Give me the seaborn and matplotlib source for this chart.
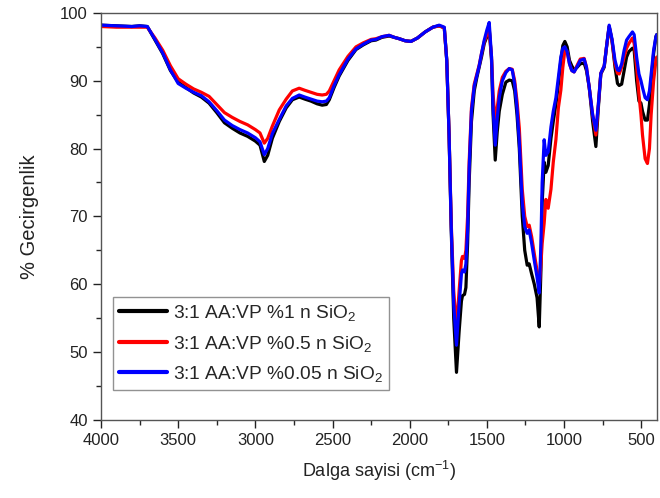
import numpy as np
import pandas as pd
import matplotlib
matplotlib.use("Agg")
import matplotlib.pyplot as plt
import seaborn as sns
from matplotlib.ticker import MultipleLocator

wavenumber = [4000, 3900, 3800, 3750, 3700, 3650, 3600, 3550, 3500, 3450, 3400, 3350, 3300, 3250,
              3200, 3150, 3100, 3050, 3000, 2970, 2942, 2920, 2890, 2845, 2800, 2760, 2716, 2680,
              2640, 2600, 2567, 2540, 2521, 2490, 2457, 2400, 2348, 2300, 2250, 2219, 2180, 2133,
              2100, 2068, 2030, 1992, 1950, 1900, 1850, 1809, 1776, 1760, 1745, 1731, 1715, 1697,
              1680, 1665, 1658, 1645, 1636, 1625, 1615, 1600, 1582, 1565, 1550, 1535, 1517, 1500,
              1485, 1470, 1460, 1446, 1433, 1420, 1400, 1377, 1355, 1336, 1320, 1305, 1290, 1271,
              1255, 1239, 1226, 1210, 1193, 1175, 1161, 1150, 1142, 1129, 1118, 1103, 1085, 1070,
              1053, 1037, 1021, 1008, 995, 980, 965, 950, 935, 915, 895, 870, 855, 837, 815, 794,
              778, 762, 740, 725, 708, 690, 670, 654, 643, 627, 611, 595, 580, 557, 546, 530, 515,
              502, 492, 475, 460, 447, 436, 420, 405, 400]

t_1pct = [98.2, 98.1, 98.0, 98.1, 98.0, 96.0, 94.0, 91.5, 89.8, 89.0, 88.2, 87.6, 86.7, 85.3,
          83.8, 83.0, 82.3, 81.8, 81.1, 80.5, 78.1, 79.0, 81.5, 84.0, 86.0, 87.2, 87.6, 87.3,
          87.0, 86.6, 86.4, 86.5, 87.2, 89.0, 90.7, 93.0, 94.6, 95.3, 95.9, 96.0, 96.4, 96.6,
          96.4, 96.2, 95.9, 95.8, 96.3, 97.2, 97.9, 98.1, 97.8, 93.0, 82.0, 68.0, 55.0, 47.0,
          53.0, 57.5, 58.3, 58.5, 59.5, 66.0, 75.0, 84.0, 88.5, 90.5, 92.0, 93.5, 95.5, 96.5,
          97.8, 93.0, 85.0, 78.3, 82.5, 85.5, 88.0, 89.8, 90.1, 90.0, 88.5, 85.0, 80.0, 70.0,
          65.0, 62.8, 63.0, 61.5, 60.0, 58.0, 53.7, 62.0, 72.0, 78.0, 76.5, 77.5, 81.5, 84.0,
          86.5, 89.5, 93.0, 95.2, 95.8, 95.0, 93.0, 92.2, 91.6, 92.0, 92.5, 92.6, 91.5, 89.0, 84.0, 80.3,
          86.0, 91.0, 92.0, 95.0, 98.0, 96.0, 92.0, 89.6, 89.3, 89.5, 91.5, 93.5, 94.3, 94.8, 94.5, 90.0, 87.0,
          86.7, 85.5, 84.2, 84.2, 86.5, 90.0, 94.0, 96.5, 96.8]

t_05pct = [98.0, 97.9, 97.9, 97.9, 97.9, 96.3, 94.5, 92.2, 90.3, 89.5, 88.8, 88.3, 87.7, 86.5,
           85.3, 84.6, 84.0, 83.5, 82.8, 82.3, 80.8, 81.5, 83.3, 85.7, 87.3, 88.5, 88.9, 88.6,
           88.3, 88.0, 87.9, 88.0, 88.5, 90.0, 91.6, 93.6, 95.0, 95.6, 96.1, 96.2, 96.5, 96.7,
           96.4, 96.2, 95.9, 95.8, 96.3, 97.2, 97.9, 98.1, 97.8, 93.0, 82.0, 69.0, 59.0, 53.5,
           59.0, 63.5, 64.1, 63.8, 65.0, 70.0, 78.0, 86.0, 89.5, 91.0, 92.3, 94.0, 95.8, 96.8,
           97.5, 93.5, 88.0, 84.0, 86.0, 88.5, 90.5, 91.4, 91.8, 91.7, 90.0, 87.0, 83.0, 74.0,
           70.0, 68.5, 68.7, 67.0, 64.5, 62.0, 59.5, 63.0, 66.0, 69.0, 72.5, 71.2, 74.0, 78.0,
           81.3, 86.0, 88.6, 92.0, 94.5, 94.3, 92.5, 91.5, 91.3, 92.3, 93.2, 93.3, 92.0, 89.0, 85.0, 82.0,
           86.5, 91.1, 92.2, 95.0, 98.0, 96.0, 92.5, 91.1, 91.0, 92.0, 93.5, 94.8, 95.5, 96.3, 95.5, 92.0, 88.0,
           85.0, 82.0, 78.5, 77.8, 80.0, 85.0, 90.0, 93.0, 93.5]

t_005pct = [98.2, 98.1, 98.0, 98.1, 98.0, 96.1, 94.1, 91.6, 89.6, 88.9, 88.3, 87.8, 86.9, 85.6,
            84.2, 83.4, 82.8, 82.3, 81.6, 81.0, 79.1, 80.0, 82.2, 84.3, 86.3, 87.4, 87.9, 87.6,
            87.3, 87.0, 86.9, 87.0, 87.5, 89.3, 90.9, 93.2, 94.7, 95.4, 96.0, 96.1, 96.5, 96.7,
            96.4, 96.2, 95.9, 95.8, 96.3, 97.2, 97.9, 98.2, 97.9, 93.0, 82.0, 68.5, 57.0, 51.0,
            57.0, 61.5, 62.1, 61.8, 63.0, 68.0, 77.0, 85.5, 89.2, 90.8, 92.2, 94.0, 96.0, 97.5,
            98.6, 93.5, 86.0, 80.5, 84.5, 87.5, 90.0, 91.2, 91.8, 91.6, 89.5, 86.0, 81.0, 72.0,
            68.5, 67.5, 68.0, 66.0, 63.5, 61.0, 58.7, 66.0, 75.0, 81.3, 79.0, 79.5, 83.2, 85.5,
            87.5, 90.5, 93.5, 94.8, 95.0, 94.3, 92.5, 91.5, 91.3, 92.1, 93.0, 93.2, 92.0, 89.0, 85.0, 82.7,
            86.5, 91.1, 92.2, 95.0, 98.2, 96.2, 93.0, 91.6, 91.5, 92.5, 94.5, 96.0, 96.5, 97.2, 96.8, 93.5, 91.0,
            90.0, 89.0, 87.5, 87.2, 88.5, 91.0, 94.5, 96.5, 96.8]

series_names = ["3:1 AA:VP %1 n SiO$_2$", "3:1 AA:VP %0.5 n SiO$_2$", "3:1 AA:VP %0.05 n SiO$_2$"]
series_colors = ["#000000", "#ff0000", "#0000ff"]

df = pd.concat([
    pd.DataFrame({"wn": wavenumber, "T": vals, "series": name})
    for name, vals in zip(series_names, [t_1pct, t_05pct, t_005pct])
], ignore_index=True)

sns.set_theme(style="ticks")
plt.rcParams["font.family"] = ["Liberation Sans", "DejaVu Sans"]
plt.rcParams["mathtext.default"] = "regular"

fig = plt.figure(figsize=(6.6, 4.98), dpi=100)
ax = fig.add_axes([0.153, 0.157, 0.842, 0.817])

sns.lineplot(data=df, x="wn", y="T", hue="series", hue_order=series_names,
             palette=dict(zip(series_names, series_colors)), estimator=None,
             linewidth=2.3, ax=ax, sort=True)

ax.set_xlim(4000, 400)
ax.set_ylim(40, 100)
ax.xaxis.set_major_locator(MultipleLocator(500))
ax.xaxis.set_minor_locator(MultipleLocator(250))
ax.yaxis.set_major_locator(MultipleLocator(10))
ax.yaxis.set_minor_locator(MultipleLocator(5))
ax.tick_params(which="major", direction="out", length=6, width=1, labelsize=12, colors="#222222")
ax.tick_params(which="minor", direction="out", length=3.5, width=1)
for s in ax.spines.values():
    s.set_color("#555555")
    s.set_linewidth(1.0)
ax.set_xlabel("Dalga sayisi (cm$^{-1}$)", fontsize=13, color="#222222", labelpad=8)
ax.set_ylabel("% Gecirgenlik", fontsize=14.5, color="#222222", labelpad=15)

leg = ax.legend(loc="lower left", bbox_to_anchor=(0.0216, 0.0737), borderaxespad=0,
                fontsize=13.8, frameon=True, fancybox=False, handlelength=2.5,
                borderpad=0.3, labelspacing=0.55, handletextpad=0.35)
leg.get_frame().set_edgecolor("#777777")
leg.get_frame().set_linewidth(1.0)
for line in leg.get_lines():
    line.set_linewidth(3)

fig.savefig("out.png", dpi=100)
